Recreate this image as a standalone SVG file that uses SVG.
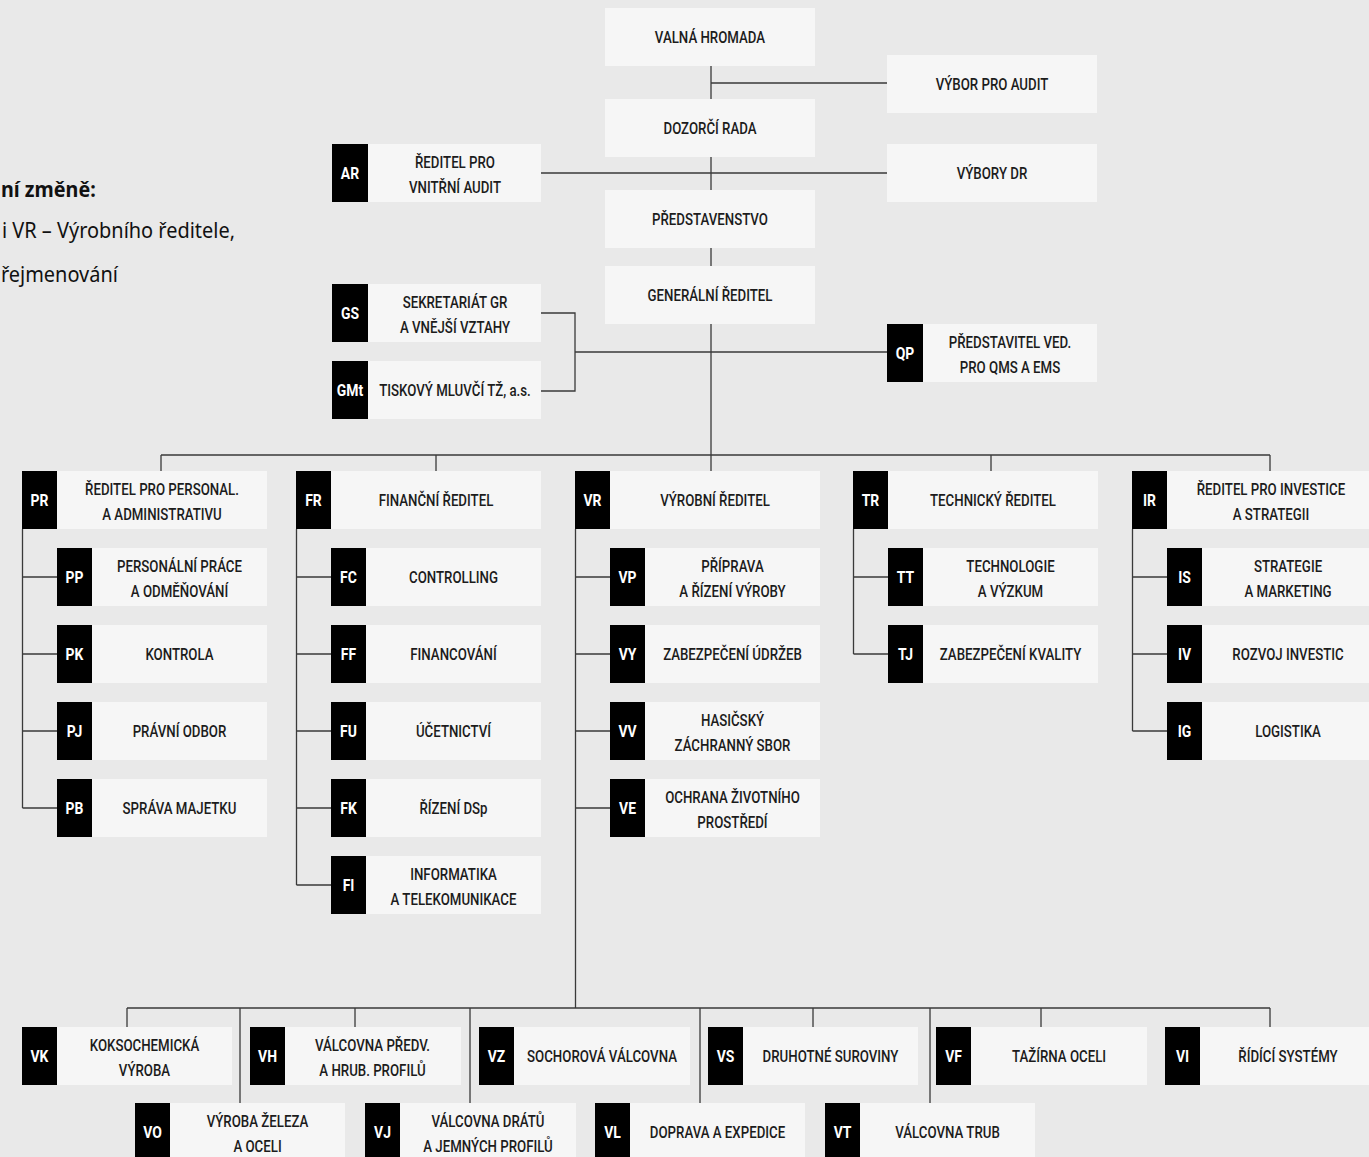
<svg xmlns="http://www.w3.org/2000/svg" width="1369" height="1157" viewBox="0 0 1369 1157">
<style>
.bg{fill:#e9e9e9}
.box{fill:#f6f6f6}
.tag{fill:#000}
.t{font-family:Roboto,"Liberation Sans",sans-serif;font-size:17px;font-weight:500;fill:#1c1c1c;text-anchor:middle}
.k{font-family:Roboto,"Liberation Sans",sans-serif;font-size:17px;font-weight:bold;fill:#fff;text-anchor:middle}
.n{font-family:"Noto Sans","Liberation Sans",sans-serif;font-size:21px;fill:#111;text-anchor:start}
.nb{font-weight:bold}
.ln{fill:none;stroke:#3a3a3a;stroke-width:1.3}
</style>
<rect class="bg" x="0" y="0" width="1369" height="1157"/>

<g id="note">
<text class="n nb" transform="translate(1,197) scale(.94 1)">ní změně:</text>
<text class="n" transform="translate(2,238) scale(.95 1)">i VR – Výrobního ředitele,</text>
<text class="n" transform="translate(1,282) scale(.95 1)">řejmenování</text>
</g>

<g id="connectors">
<path class="ln" d="M711,66V99M711,83H887M711,157V190M541,173H887M711,248V266M711,324V471M541,313H575V391H541M575,352H887"/>
<path class="ln" d="M161,455H1270M161,455V471M436,455V471M991,455V471M1270,455V471"/>
<path class="ln" d="M22.5,529V808M22.5,577H57M22.5,654H57M22.5,731H57M22.5,808H57"/>
<path class="ln" d="M296.5,529V885M296.5,577H331M296.5,654H331M296.5,731H331M296.5,808H331M296.5,885H331"/>
<path class="ln" d="M575.5,529V1008M575.5,577H610M575.5,654H610M575.5,731H610M575.5,808H610"/>
<path class="ln" d="M853.5,529V654M853.5,577H888M853.5,654H888"/>
<path class="ln" d="M1132.5,529V731M1132.5,577H1167M1132.5,654H1167M1132.5,731H1167"/>
<path class="ln" d="M127,1008H1270M127,1008V1027M355,1008V1027M813,1008V1027M1041,1008V1027M1270,1008V1027M240,1008V1103M470,1008V1103M700,1008V1103M930,1008V1103"/>
</g>

<g id="valna-hromada"><rect class="box" x="605" y="8" width="210" height="58"/><text class="t" transform="translate(710,43) scale(.78 1)">VALNÁ HROMADA</text></g>
<g id="vybor-pro-audit"><rect class="box" x="887" y="55" width="210" height="58"/><text class="t" transform="translate(992,90) scale(.78 1)">VÝBOR PRO AUDIT</text></g>
<g id="dozorci-rada"><rect class="box" x="605" y="99" width="210" height="58"/><text class="t" transform="translate(710,134) scale(.78 1)">DOZORČÍ RADA</text></g>
<g id="AR"><rect class="tag" x="332" y="144" width="36" height="58"/><rect class="box" x="368" y="144" width="173" height="58"/><text class="k" transform="translate(350,179) scale(.82 1)">AR</text><text class="t" transform="translate(455,168) scale(.78 1)">ŘEDITEL PRO</text><text class="t" transform="translate(455,193) scale(.78 1)">VNITŘNÍ AUDIT</text></g>
<g id="vybory-dr"><rect class="box" x="887" y="144" width="210" height="58"/><text class="t" transform="translate(992,179) scale(.78 1)">VÝBORY DR</text></g>
<g id="predstavenstvo"><rect class="box" x="605" y="190" width="210" height="58"/><text class="t" transform="translate(710,225) scale(.78 1)">PŘEDSTAVENSTVO</text></g>
<g id="generalni-reditel"><rect class="box" x="605" y="266" width="210" height="58"/><text class="t" transform="translate(710,301) scale(.78 1)">GENERÁLNÍ ŘEDITEL</text></g>
<g id="GS"><rect class="tag" x="332" y="284" width="36" height="58"/><rect class="box" x="368" y="284" width="173" height="58"/><text class="k" transform="translate(350,319) scale(.82 1)">GS</text><text class="t" transform="translate(455,308) scale(.78 1)">SEKRETARIÁT GR</text><text class="t" transform="translate(455,333) scale(.78 1)">A VNĚJŠÍ VZTAHY</text></g>
<g id="GMt"><rect class="tag" x="332" y="361" width="36" height="58"/><rect class="box" x="368" y="361" width="173" height="58"/><text class="k" transform="translate(350,396) scale(.82 1)">GMt</text><text class="t" transform="translate(455,396) scale(.78 1)">TISKOVÝ MLUVČÍ TŽ, a.s.</text></g>
<g id="QP"><rect class="tag" x="887" y="324" width="36" height="58"/><rect class="box" x="923" y="324" width="174" height="58"/><text class="k" transform="translate(905,359) scale(.82 1)">QP</text><text class="t" transform="translate(1010,348) scale(.78 1)">PŘEDSTAVITEL VED.</text><text class="t" transform="translate(1010,373) scale(.78 1)">PRO QMS A EMS</text></g>

<g id="PR"><rect class="tag" x="22" y="471" width="35" height="58"/><rect class="box" x="57" y="471" width="210" height="58"/><text class="k" transform="translate(39.5,506) scale(.82 1)">PR</text><text class="t" transform="translate(162,495) scale(.78 1)">ŘEDITEL PRO PERSONAL.</text><text class="t" transform="translate(162,520) scale(.78 1)">A ADMINISTRATIVU</text></g>
<g id="PP"><rect class="tag" x="57" y="548" width="35" height="58"/><rect class="box" x="92" y="548" width="175" height="58"/><text class="k" transform="translate(74.5,583) scale(.82 1)">PP</text><text class="t" transform="translate(179.5,572) scale(.78 1)">PERSONÁLNÍ PRÁCE</text><text class="t" transform="translate(179.5,597) scale(.78 1)">A ODMĚŇOVÁNÍ</text></g>
<g id="PK"><rect class="tag" x="57" y="625" width="35" height="58"/><rect class="box" x="92" y="625" width="175" height="58"/><text class="k" transform="translate(74.5,660) scale(.82 1)">PK</text><text class="t" transform="translate(179.5,660) scale(.78 1)">KONTROLA</text></g>
<g id="PJ"><rect class="tag" x="57" y="702" width="35" height="58"/><rect class="box" x="92" y="702" width="175" height="58"/><text class="k" transform="translate(74.5,737) scale(.82 1)">PJ</text><text class="t" transform="translate(179.5,737) scale(.78 1)">PRÁVNÍ ODBOR</text></g>
<g id="PB"><rect class="tag" x="57" y="779" width="35" height="58"/><rect class="box" x="92" y="779" width="175" height="58"/><text class="k" transform="translate(74.5,814) scale(.82 1)">PB</text><text class="t" transform="translate(179.5,814) scale(.78 1)">SPRÁVA MAJETKU</text></g>

<g id="FR"><rect class="tag" x="296" y="471" width="35" height="58"/><rect class="box" x="331" y="471" width="210" height="58"/><text class="k" transform="translate(313.5,506) scale(.82 1)">FR</text><text class="t" transform="translate(436,506) scale(.78 1)">FINANČNÍ ŘEDITEL</text></g>
<g id="FC"><rect class="tag" x="331" y="548" width="35" height="58"/><rect class="box" x="366" y="548" width="175" height="58"/><text class="k" transform="translate(348.5,583) scale(.82 1)">FC</text><text class="t" transform="translate(453.5,583) scale(.78 1)">CONTROLLING</text></g>
<g id="FF"><rect class="tag" x="331" y="625" width="35" height="58"/><rect class="box" x="366" y="625" width="175" height="58"/><text class="k" transform="translate(348.5,660) scale(.82 1)">FF</text><text class="t" transform="translate(453.5,660) scale(.78 1)">FINANCOVÁNÍ</text></g>
<g id="FU"><rect class="tag" x="331" y="702" width="35" height="58"/><rect class="box" x="366" y="702" width="175" height="58"/><text class="k" transform="translate(348.5,737) scale(.82 1)">FU</text><text class="t" transform="translate(453.5,737) scale(.78 1)">ÚČETNICTVÍ</text></g>
<g id="FK"><rect class="tag" x="331" y="779" width="35" height="58"/><rect class="box" x="366" y="779" width="175" height="58"/><text class="k" transform="translate(348.5,814) scale(.82 1)">FK</text><text class="t" transform="translate(453.5,814) scale(.78 1)">ŘÍZENÍ DSp</text></g>
<g id="FI"><rect class="tag" x="331" y="856" width="35" height="58"/><rect class="box" x="366" y="856" width="175" height="58"/><text class="k" transform="translate(348.5,891) scale(.82 1)">FI</text><text class="t" transform="translate(453.5,880) scale(.78 1)">INFORMATIKA</text><text class="t" transform="translate(453.5,905) scale(.78 1)">A TELEKOMUNIKACE</text></g>

<g id="VR"><rect class="tag" x="575" y="471" width="35" height="58"/><rect class="box" x="610" y="471" width="210" height="58"/><text class="k" transform="translate(592.5,506) scale(.82 1)">VR</text><text class="t" transform="translate(715,506) scale(.78 1)">VÝROBNÍ ŘEDITEL</text></g>
<g id="VP"><rect class="tag" x="610" y="548" width="35" height="58"/><rect class="box" x="645" y="548" width="175" height="58"/><text class="k" transform="translate(627.5,583) scale(.82 1)">VP</text><text class="t" transform="translate(732.5,572) scale(.78 1)">PŘÍPRAVA</text><text class="t" transform="translate(732.5,597) scale(.78 1)">A ŘÍZENÍ VÝROBY</text></g>
<g id="VY"><rect class="tag" x="610" y="625" width="35" height="58"/><rect class="box" x="645" y="625" width="175" height="58"/><text class="k" transform="translate(627.5,660) scale(.82 1)">VY</text><text class="t" transform="translate(732.5,660) scale(.78 1)">ZABEZPEČENÍ ÚDRŽEB</text></g>
<g id="VV"><rect class="tag" x="610" y="702" width="35" height="58"/><rect class="box" x="645" y="702" width="175" height="58"/><text class="k" transform="translate(627.5,737) scale(.82 1)">VV</text><text class="t" transform="translate(732.5,726) scale(.78 1)">HASIČSKÝ</text><text class="t" transform="translate(732.5,751) scale(.78 1)">ZÁCHRANNÝ SBOR</text></g>
<g id="VE"><rect class="tag" x="610" y="779" width="35" height="58"/><rect class="box" x="645" y="779" width="175" height="58"/><text class="k" transform="translate(627.5,814) scale(.82 1)">VE</text><text class="t" transform="translate(732.5,803) scale(.78 1)">OCHRANA ŽIVOTNÍHO</text><text class="t" transform="translate(732.5,828) scale(.78 1)">PROSTŘEDÍ</text></g>

<g id="TR"><rect class="tag" x="853" y="471" width="35" height="58"/><rect class="box" x="888" y="471" width="210" height="58"/><text class="k" transform="translate(870.5,506) scale(.82 1)">TR</text><text class="t" transform="translate(993,506) scale(.78 1)">TECHNICKÝ ŘEDITEL</text></g>
<g id="TT"><rect class="tag" x="888" y="548" width="35" height="58"/><rect class="box" x="923" y="548" width="175" height="58"/><text class="k" transform="translate(905.5,583) scale(.82 1)">TT</text><text class="t" transform="translate(1010.5,572) scale(.78 1)">TECHNOLOGIE</text><text class="t" transform="translate(1010.5,597) scale(.78 1)">A VÝZKUM</text></g>
<g id="TJ"><rect class="tag" x="888" y="625" width="35" height="58"/><rect class="box" x="923" y="625" width="175" height="58"/><text class="k" transform="translate(905.5,660) scale(.82 1)">TJ</text><text class="t" transform="translate(1010.5,660) scale(.78 1)">ZABEZPEČENÍ KVALITY</text></g>

<g id="IR"><rect class="tag" x="1132" y="471" width="35" height="58"/><rect class="box" x="1167" y="471" width="210" height="58"/><text class="k" transform="translate(1149.5,506) scale(.82 1)">IR</text><text class="t" transform="translate(1271,495) scale(.78 1)">ŘEDITEL PRO INVESTICE</text><text class="t" transform="translate(1271,520) scale(.78 1)">A STRATEGII</text></g>
<g id="IS"><rect class="tag" x="1167" y="548" width="35" height="58"/><rect class="box" x="1202" y="548" width="175" height="58"/><text class="k" transform="translate(1184.5,583) scale(.82 1)">IS</text><text class="t" transform="translate(1288,572) scale(.78 1)">STRATEGIE</text><text class="t" transform="translate(1288,597) scale(.78 1)">A MARKETING</text></g>
<g id="IV"><rect class="tag" x="1167" y="625" width="35" height="58"/><rect class="box" x="1202" y="625" width="175" height="58"/><text class="k" transform="translate(1184.5,660) scale(.82 1)">IV</text><text class="t" transform="translate(1288,660) scale(.78 1)">ROZVOJ INVESTIC</text></g>
<g id="IG"><rect class="tag" x="1167" y="702" width="35" height="58"/><rect class="box" x="1202" y="702" width="175" height="58"/><text class="k" transform="translate(1184.5,737) scale(.82 1)">IG</text><text class="t" transform="translate(1288,737) scale(.78 1)">LOGISTIKA</text></g>

<g id="VK"><rect class="tag" x="22" y="1027" width="35" height="58"/><rect class="box" x="57" y="1027" width="175" height="58"/><text class="k" transform="translate(39.5,1062) scale(.82 1)">VK</text><text class="t" transform="translate(144.5,1051) scale(.78 1)">KOKSOCHEMICKÁ</text><text class="t" transform="translate(144.5,1076) scale(.78 1)">VÝROBA</text></g>
<g id="VH"><rect class="tag" x="250" y="1027" width="35" height="58"/><rect class="box" x="285" y="1027" width="176" height="58"/><text class="k" transform="translate(267.5,1062) scale(.82 1)">VH</text><text class="t" transform="translate(372.5,1051) scale(.78 1)">VÁLCOVNA PŘEDV.</text><text class="t" transform="translate(372.5,1076) scale(.78 1)">A HRUB. PROFILŮ</text></g>
<g id="VZ"><rect class="tag" x="479" y="1027" width="35" height="58"/><rect class="box" x="514" y="1027" width="176" height="58"/><text class="k" transform="translate(496.5,1062) scale(.82 1)">VZ</text><text class="t" transform="translate(602,1062) scale(.78 1)">SOCHOROVÁ VÁLCOVNA</text></g>
<g id="VS"><rect class="tag" x="708" y="1027" width="35" height="58"/><rect class="box" x="743" y="1027" width="175" height="58"/><text class="k" transform="translate(725.5,1062) scale(.82 1)">VS</text><text class="t" transform="translate(830.5,1062) scale(.78 1)">DRUHOTNÉ SUROVINY</text></g>
<g id="VF"><rect class="tag" x="936" y="1027" width="35" height="58"/><rect class="box" x="971" y="1027" width="176" height="58"/><text class="k" transform="translate(953.5,1062) scale(.82 1)">VF</text><text class="t" transform="translate(1059,1062) scale(.78 1)">TAŽÍRNA OCELI</text></g>
<g id="VI"><rect class="tag" x="1165" y="1027" width="35" height="58"/><rect class="box" x="1200" y="1027" width="176" height="58"/><text class="k" transform="translate(1182.5,1062) scale(.82 1)">VI</text><text class="t" transform="translate(1288,1062) scale(.78 1)">ŘÍDÍCÍ SYSTÉMY</text></g>

<g id="VO"><rect class="tag" x="135" y="1103" width="35" height="58"/><rect class="box" x="170" y="1103" width="175" height="58"/><text class="k" transform="translate(152.5,1138) scale(.82 1)">VO</text><text class="t" transform="translate(257.5,1127) scale(.78 1)">VÝROBA ŽELEZA</text><text class="t" transform="translate(257.5,1152) scale(.78 1)">A OCELI</text></g>
<g id="VJ"><rect class="tag" x="365" y="1103" width="35" height="58"/><rect class="box" x="400" y="1103" width="176" height="58"/><text class="k" transform="translate(382.5,1138) scale(.82 1)">VJ</text><text class="t" transform="translate(488,1127) scale(.78 1)">VÁLCOVNA DRÁTŮ</text><text class="t" transform="translate(488,1152) scale(.78 1)">A JEMNÝCH PROFILŮ</text></g>
<g id="VL"><rect class="tag" x="595" y="1103" width="35" height="58"/><rect class="box" x="630" y="1103" width="175" height="58"/><text class="k" transform="translate(612.5,1138) scale(.82 1)">VL</text><text class="t" transform="translate(717.5,1138) scale(.78 1)">DOPRAVA A EXPEDICE</text></g>
<g id="VT"><rect class="tag" x="825" y="1103" width="35" height="58"/><rect class="box" x="860" y="1103" width="175" height="58"/><text class="k" transform="translate(842.5,1138) scale(.82 1)">VT</text><text class="t" transform="translate(947.5,1138) scale(.78 1)">VÁLCOVNA TRUB</text></g>
</svg>
